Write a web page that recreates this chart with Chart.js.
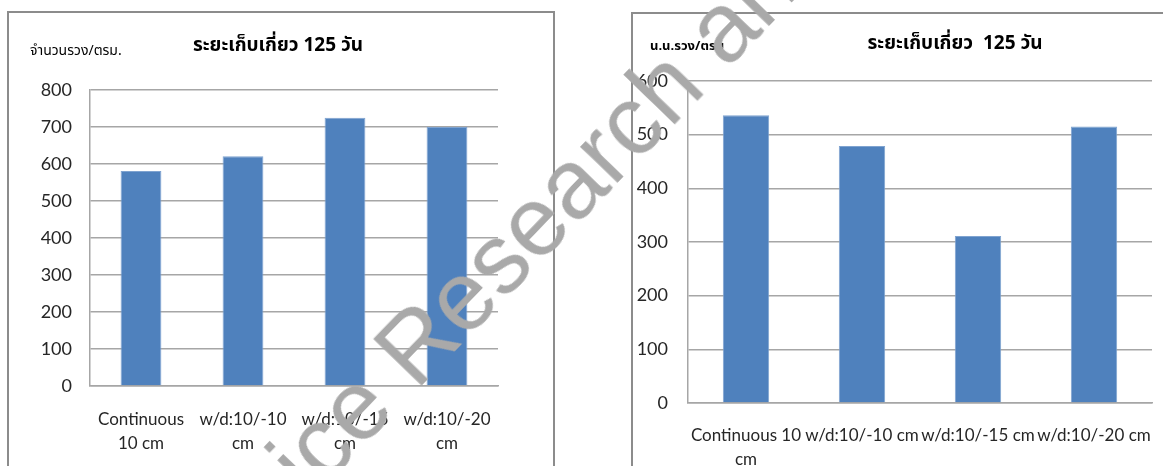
<!DOCTYPE html>
<html>
<head>
<meta charset="utf-8">
<script src="https://cdn.jsdelivr.net/npm/chart.js@4.4.1/dist/chart.umd.min.js"></script>
<style>
  body { margin: 0; width: 1163px; height: 466px; overflow: hidden; position: relative; background: #fff; }
  .box { position: absolute; border: 2px solid #8c8c8c; background: #fff; }
  #boxLeft { left: 7px; top: 11px; width: 544px; height: 470px; }
  #boxRight { left: 631px; top: 12px; width: 560px; height: 470px; }
  .box canvas { display: block; }
  #stamp {
    position: absolute; left: 261px; top: 469px;
    font: 98px "Liberation Sans", Arial, sans-serif; line-height: 98px;
    color: #a9a9a9; white-space: nowrap;
    transform-origin: 0 83px; transform: rotate(-46deg);
    pointer-events: none;
  }
</style>
</head>
<body>
<div class="box" id="boxLeft"><canvas id="countChart"></canvas></div>
<div class="box" id="boxRight"><canvas id="weightChart"></canvas></div>
<div id="stamp">Rice Research and</div>

<script>
// panicles per square metre at 125 days
const countLabels = [['Continuous', '10 cm'], ['w/d:10/-10', 'cm'], ['w/d:10/-15', 'cm'], ['w/d:10/-20', 'cm']];
const countValues = [581, 621, 725, 700];
const countTicks = { min: 0, max: 800, step: 100 };

// panicle weight per square metre at 125 days
const weightLabels = [['Continuous 10', 'cm'], 'w/d:10/-10 cm', 'w/d:10/-15 cm', 'w/d:10/-20 cm'];
const weightValues = [536, 479, 311, 515];
const weightTicks = { min: 0, max: 600, step: 100 };

const thaiFont = '"Noto Sans Thai", "Tahoma", "DejaVu Sans", sans-serif';
const tickFont = 'Lato, "Open Sans", sans-serif';

// title and unit text above the plot
const captions = {
    id: 'captions',
    afterDraw(chart, args, opts) {
        const ctx = chart.ctx;
        ctx.save();
        ctx.fillStyle = '#000';
        ctx.textBaseline = 'middle';
        ctx.font = 'bold 19px ' + thaiFont;
        ctx.textAlign = 'center';
        ctx.fillText(opts.title, opts.titleX, opts.titleY);
        ctx.font = opts.unitFont + ' ' + thaiFont;
        ctx.textAlign = 'left';
        ctx.fillText(opts.unit, opts.unitX, opts.unitY);
        ctx.restore();
    }
};

const makeChart = (canvasId, size, labels, values, ticks, frame, caption) => {
    const canvas = document.getElementById(canvasId);
    canvas.width = size.w;
    canvas.height = size.h;
    return new Chart(canvas, {
        type: 'bar',
        data: {
            labels: labels,
            datasets: [{
                data: values,
                backgroundColor: '#4f81bd',
                borderColor: '#7fa3d0',
                borderWidth: { top: 1, left: 1, right: 1, bottom: 0 },
                barPercentage: 0.4,
                categoryPercentage: 1
            }]
        },
        options: {
            responsive: false,
            animation: false,
            layout: { padding: { top: frame.top, right: frame.right, left: 0, bottom: 0 } },
            plugins: {
                legend: { display: false },
                tooltip: { enabled: false },
                captions: caption
            },
            scales: {
                x: {
                    grid: { display: false },
                    border: { display: true, color: '#a6a6a6', width: 1.5 },
                    ticks: {
                        color: '#262626',
                        padding: frame.labelPad,
                        autoSkip: false,
                        maxRotation: 0,
                        font: { family: tickFont, size: frame.xFont, lineHeight: 1.4 }
                    },
                    afterFit: scale => { scale.height = size.h - frame.bottom; }
                },
                y: {
                    min: ticks.min,
                    max: ticks.max,
                    grid: { color: '#a6a6a6', lineWidth: 1.5, drawTicks: false },
                    border: { display: true, color: '#a6a6a6', width: 1.5 },
                    ticks: {
                        stepSize: ticks.step,
                        color: '#262626',
                        padding: frame.tickPad,
                        font: { family: tickFont, size: 18 }
                    },
                    afterFit: scale => { scale.width = frame.left; }
                }
            }
        },
        plugins: [captions]
    });
};

makeChart('countChart', { w: 544, h: 455 }, countLabels, countValues, countTicks,
    { top: 77, bottom: 373, left: 81, right: 55, tickPad: 18, labelPad: 14, xFont: 17 },
    { title: 'ระยะเก็บเกี่ยว 125 วัน', titleX: 269, titleY: 34,
      unit: 'จำนวนรวง/ตรม.', unitX: 21, unitY: 39, unitFont: '14px' });

makeChart('weightChart', { w: 540, h: 452 }, weightLabels, weightValues, weightTicks,
    { top: 67, bottom: 389, left: 55, right: 21, tickPad: 20, labelPad: 13, xFont: 17 },
    { title: 'ระยะเก็บเกี่ยว  125 วัน', titleX: 322, titleY: 31,
      unit: 'น.น.รวง/ตรม', unitX: 17, unitY: 33, unitFont: 'bold 13px' });
</script>
</body>
</html>
